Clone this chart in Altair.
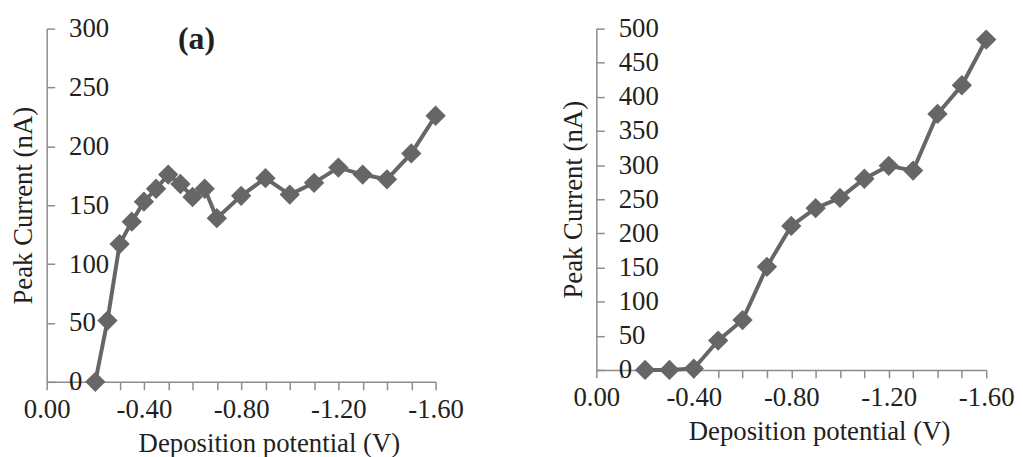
import altair as alt
import pandas as pd

# ---- data ----
left_x = [-0.20, -0.25, -0.30, -0.35, -0.40, -0.45, -0.50, -0.55, -0.60, -0.65,
          -0.70, -0.80, -0.90, -1.00, -1.10, -1.20, -1.30, -1.40, -1.50, -1.60]
left_y = [0, 52, 117, 136, 153, 164, 176, 168, 157, 164,
          139, 158, 173, 159, 169, 182, 176, 172, 194, 226]

right_x = [-0.20, -0.30, -0.40, -0.50, -0.60, -0.70, -0.80, -0.90,
           -1.00, -1.10, -1.20, -1.30, -1.40, -1.50, -1.60]
right_y = [0, 0, 2, 43, 73, 151, 211, 237, 252, 280, 299, 292, 375, 417, 484]

x_ticks = [0.0, -0.1, -0.2, -0.3, -0.4, -0.5, -0.6, -0.7, -0.8, -0.9,
           -1.0, -1.1, -1.2, -1.3, -1.4, -1.5, -1.6]
left_y_ticks = [0, 50, 100, 150, 200, 250, 300]
right_y_ticks = [0, 50, 100, 150, 200, 250, 300, 350, 400, 450, 500]

x_title = "Deposition potential (V)"
y_title = "Peak Current (nA)"
panel_label = "(a)"

FONT = "Liberation Serif"
MARK = "#666666"
AXIS = "#8c8c8c"
TEXT = "#231f20"

x_label_expr = ("abs(round(datum.value*10)) % 4 == 0 ? "
                "(datum.value == 0 ? '0.00' : '-' + format(-datum.value, '.2f')) : ''")

common_axis = dict(
    grid=False, tickSize=8, labelFlush=False,
    domainColor=AXIS, tickColor=AXIS, domainWidth=1.5, tickWidth=1.5,
    labelFont=FONT, labelFontSize=27, labelColor=TEXT,
    titleFont=FONT, titleFontSize=27, titleColor=TEXT, titleFontWeight="normal",
)


def panel(xs, ys, y_ticks, ymax, w, h, label=None):
    df = pd.DataFrame({"x": xs, "y": ys})
    x = alt.X(
        "x:Q",
        scale=alt.Scale(domain=[-1.6, 0], reverse=True, nice=False, zero=False),
        axis=alt.Axis(
            values=x_ticks, labelExpr=x_label_expr, labelPadding=7,
            title=x_title, titleX=w / 2 + 28, titleY=62,
            titleBaseline="middle", titleAlign="center", **common_axis,
        ),
    )
    y = alt.Y(
        "y:Q",
        scale=alt.Scale(domain=[0, ymax], nice=False),
        axis=alt.Axis(
            orient="right", offset=-w, values=y_ticks,
            labelPadding=14, labelAlign="left", labelBaseline="middle",
            title=y_title, titleAngle=270, titleX=-23, titleY=h / 2,
            titleAlign="center", titleBaseline="middle", **common_axis,
        ),
    )
    base = alt.Chart(df).encode(x=x, y=y)
    line = base.mark_line(color=MARK, strokeWidth=4)
    pts = base.mark_point(shape="diamond", filled=True, size=420, color=MARK, opacity=1)
    layers = [line, pts]
    if label:
        txt = alt.Chart(pd.DataFrame({"t": [label]})).mark_text(
            font=FONT, fontSize=32, fontWeight="bold", color=TEXT
        ).encode(text="t:N", x=alt.value(151), y=alt.value(11))
        layers.append(txt)
    return alt.layer(*layers).properties(width=w, height=h)


left = panel(left_x, left_y, left_y_ticks, 300, 392, 356, panel_label)
right = panel(right_x, right_y, right_y_ticks, 500, 393, 344)

chart = alt.hconcat(left, right, spacing=96).properties(
    padding={"left": 2, "top": 5, "right": 0, "bottom": 0}
).configure_view(stroke=None)

chart.save("out.html", embed_options={"renderer": "svg", "actions": False})
